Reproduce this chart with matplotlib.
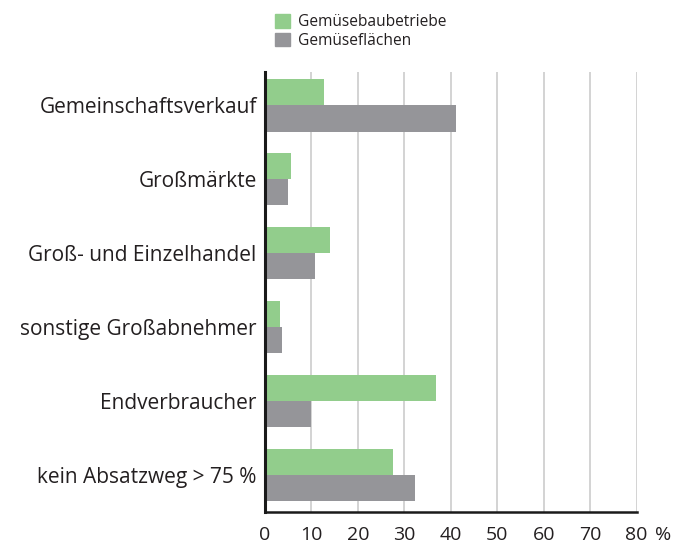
import numpy as np
import matplotlib.pyplot as plt
import matplotlib.transforms as mtransforms
from matplotlib.patches import Patch

plt.rcParams['font.family'] = ['Open Sans', 'DejaVu Sans']

categories = [
    "Gemeinschaftsverkauf",
    "Großmärkte",
    "Groß- und Einzelhandel",
    "sonstige Großabnehmer",
    "Endverbraucher",
    "kein Absatzweg > 75 %",
]
betriebe = [12.6, 5.7, 13.9, 3.2, 36.9, 27.5]
flaechen = [41.2, 4.9, 10.7, 3.6, 10.0, 32.2]
xticks = [0, 10, 20, 30, 40, 50, 60, 70, 80]

GREEN = "#92cd8c"
GREY = "#959599"
TEXT = "#231f20"
XPAD = 10

fig = plt.figure(figsize=(6.89, 5.49), dpi=100)
ax = fig.add_axes([265 / 689, 1 - 512 / 549, 371.5 / 689, 440 / 549])

y = np.arange(len(categories))
h = 0.355
ax.barh(y - h / 2, betriebe, height=h, color=GREEN, zorder=2)
ax.barh(y + h / 2, flaechen, height=h, color=GREY, zorder=2)

ax.set_xlim(0, 80)
ax.set_ylim(len(categories) - 0.5, -0.45)
ax.set_xticks(xticks)
ax.set_xticklabels([str(t) for t in xticks])
ax.set_yticks(y)
ax.set_yticklabels(categories)
ax.tick_params(axis='both', length=0, colors=TEXT)
ax.tick_params(axis='x', pad=XPAD, labelsize=14)
ax.tick_params(axis='y', pad=6, labelsize=15)

ax.grid(axis='x', color="#c8c8c8", linewidth=1.1, zorder=0)
for s in ['top', 'right']:
    ax.spines[s].set_visible(False)
ax.spines['left'].set_linewidth(2.2)
ax.spines['bottom'].set_linewidth(1.8)
ax.spines['left'].set_color("#1a1a1a")
ax.spines['bottom'].set_color("#1a1a1a")
ax.spines['left'].set_zorder(3)

# percent sign after the last tick label, on the same line as the labels
trans = mtransforms.offset_copy(ax.get_xaxis_transform(), fig=fig, x=13.5, y=-XPAD, units='points')
ax.text(80, 0, "%", transform=trans, ha='left', va='top', fontsize=14, color=TEXT)

handles = [Patch(color=GREEN, label="Gemüsebaubetriebe"),
           Patch(color=GREY, label="Gemüseflächen")]
fig.legend(handles=handles, loc='upper left', bbox_to_anchor=(264 / 689, 1 - 3 / 549),
           frameon=False, fontsize=11.2, handlelength=0.95, handleheight=1.0,
           handletextpad=0.55, labelspacing=0.15, borderpad=0.2, labelcolor=TEXT)

fig.savefig("out.png", dpi=100)
